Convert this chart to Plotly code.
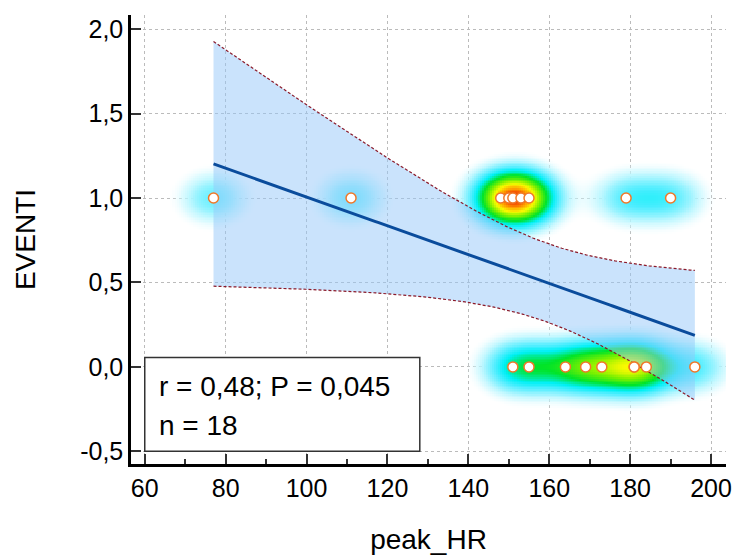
import numpy as np
import plotly.graph_objects as go

# ---- data ----
peak_hr_events = [77, 111, 148, 150, 151, 153, 155, 179, 190]          # EVENTI = 1
peak_hr_no_events = [151, 155, 164, 169, 173, 181, 181, 184, 196]      # EVENTI = 0
x_ticks = [60, 80, 100, 120, 140, 160, 180, 200]
y_ticks = [-0.5, 0.0, 0.5, 1.0, 1.5, 2.0]
y_tick_labels = ["-0,5", "0,0", "0,5", "1,0", "1,5", "2,0"]
stats_text = ["r = 0,48; P = 0,045", "n = 18"]
x_title = "peak_HR"
y_title = "EVENTI"

x = np.array(peak_hr_events + peak_hr_no_events, dtype=float)
y = np.array([1.0] * len(peak_hr_events) + [0.0] * len(peak_hr_no_events))
n = len(x)

# ---- regression + 95% CI ----
xm, ym = x.mean(), y.mean()
sxx = ((x - xm) ** 2).sum()
b = ((x - xm) * (y - ym)).sum() / sxx
a = ym - b * xm
resid = y - (a + b * x)
s = np.sqrt((resid ** 2).sum() / (n - 2))
t_crit = 2.1199  # t(0.975, df=16)
xf = np.linspace(x.min(), x.max(), 200)
yf = a + b * xf
half = t_crit * s * np.sqrt(1.0 / n + (xf - xm) ** 2 / sxx)
upper, lower = yf + half, yf - half

# ---- density (heat map) ----
XR = [56.6, 203.7]
YR = [-0.575, 2.084]
gx = np.arange(XR[0], XR[1] + 0.5, 0.5)
gy = np.arange(YR[0], YR[1] + 0.01, 0.01)
GX, GY = np.meshgrid(gx, gy)
sx, sy = 6.0, 0.11
Z = np.zeros_like(GX)
for xi, yi in zip(x, y):
    Z += np.exp(-((GX - xi) ** 2) / (2 * sx ** 2) - ((GY - yi) ** 2) / (2 * sy ** 2))
Z = Z / Z.max()

cscale = [
    [0.00, "rgba(255,255,255,0)"],
    [0.04, "rgba(230,252,255,0)"],
    [0.09, "rgba(200,248,255,0.6)"],
    [0.16, "rgb(160,244,255)"],
    [0.25, "rgb(80,238,255)"],
    [0.34, "rgb(0,240,245)"],
    [0.48, "rgb(0,228,40)"],
    [0.62, "rgb(120,240,0)"],
    [0.76, "rgb(250,250,0)"],
    [0.88, "rgb(255,160,0)"],
    [1.00, "rgb(238,40,0)"],
]

fig = go.Figure()
fig.add_trace(go.Heatmap(x=gx, y=gy, z=Z, colorscale=cscale, zmin=0, zmax=1,
                         showscale=False, hoverinfo="skip", zsmooth=False))
# CI band
fig.add_trace(go.Scatter(x=np.concatenate([xf, xf[::-1]]),
                         y=np.concatenate([upper, lower[::-1]]),
                         fill="toself", fillcolor="rgba(150,200,250,0.5)",
                         line=dict(width=0), mode="lines", hoverinfo="skip"))
for bound in (upper, lower):
    fig.add_trace(go.Scatter(x=xf, y=bound, mode="lines",
                             line=dict(color="#8B1A2A", width=1.2, dash="3px,2px"),
                             hoverinfo="skip"))
fig.add_trace(go.Scatter(x=xf, y=yf, mode="lines",
                         line=dict(color="#0A4C9C", width=3)))
fig.add_trace(go.Scatter(x=x, y=y, mode="markers",
                         marker=dict(size=10, color="white",
                                     line=dict(color="#F07828", width=1.5))))

# stats box
fig.add_shape(type="rect", x0=60, x1=128, y0=-0.5, y1=0.055, xref="x", yref="y",
              line=dict(color="#333333", width=1.5), fillcolor="white", layer="above")
fig.add_annotation(x=63, y=-0.116, text=stats_text[0], showarrow=False,
                   xanchor="left", yanchor="middle", font=dict(size=28, color="black"))
fig.add_annotation(x=63, y=-0.345, text=stats_text[1], showarrow=False,
                   xanchor="left", yanchor="middle", font=dict(size=28, color="black"))

axis_common = dict(
    showline=True, linewidth=2.5, linecolor="black", mirror=False,
    ticks="inside", ticklen=10, tickwidth=1.5, tickcolor="#333333",
    showgrid=True, gridcolor="#BBBBBB", gridwidth=1, griddash="dot",
    zeroline=False, tickfont=dict(size=25, color="black"),
)
fig.update_xaxes(range=XR, tickvals=x_ticks, **axis_common,
                 minor=dict(dtick=10, tick0=0, ticks="inside", ticklen=5,
                            tickwidth=1.5, tickcolor="#333333", showgrid=False),
                 title=dict(text=x_title, font=dict(size=28, color="black"), standoff=29))
fig.update_yaxes(range=YR, tickvals=y_ticks, ticktext=y_tick_labels, **axis_common,
                 title=dict(text=y_title, font=dict(size=28, color="black"), standoff=37))

fig.update_layout(
    width=740, height=558,
    margin=dict(l=131, r=8, t=15, b=92),
    paper_bgcolor="white", plot_bgcolor="white",
    showlegend=False, separators=", ",
    font=dict(family="Liberation Sans, Arial, sans-serif", color="black"),
)
fig.write_html("out.html")
